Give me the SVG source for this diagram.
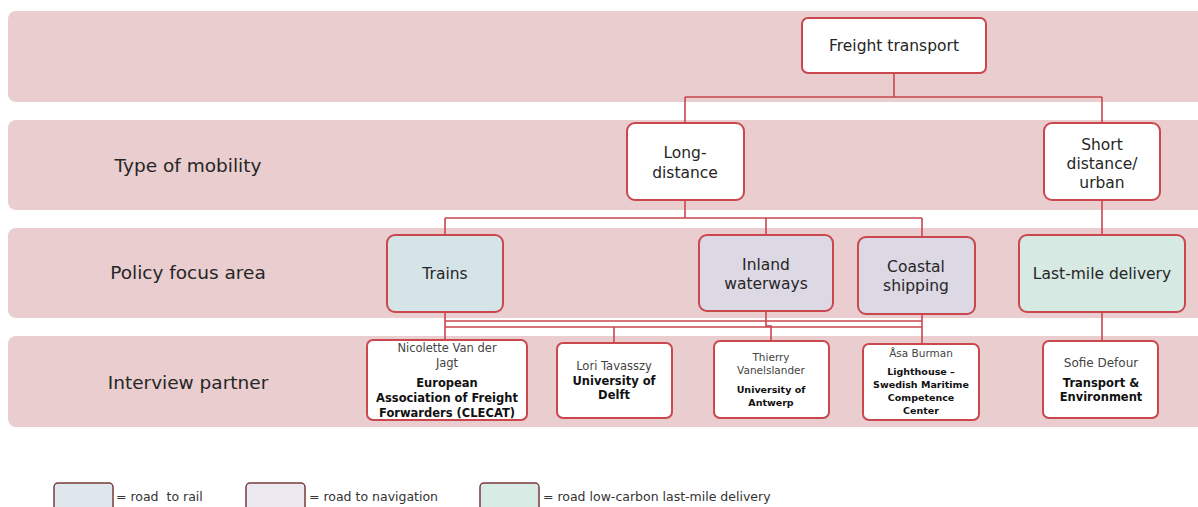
<svg xmlns="http://www.w3.org/2000/svg" width="1198" height="507" viewBox="0 0 1198 507">
<style>
.band{fill:#e9cdcf;}
.node rect{stroke:#c9474d;stroke-width:2;}
.w{fill:#ffffff;}
.t{font-family:"DejaVu Sans","Liberation Sans",sans-serif;fill:#262626;text-anchor:middle;}
.lab{font-family:"DejaVu Sans","Liberation Sans",sans-serif;fill:#262626;font-size:18.5px;text-anchor:middle;}
.n{font-size:15.5px;}
.p{font-size:11.5px;fill:#444;}
.b{font-size:11.5px;font-weight:bold;fill:#111;}
.conn path{fill:none;stroke:#c9474d;stroke-width:1.6;}
.leg rect{stroke:#7a3b3b;stroke-width:1.5;}
.lt{font-family:"DejaVu Sans","Liberation Sans",sans-serif;font-size:12.5px;fill:#333;white-space:pre;}
</style>
<rect width="1198" height="507" fill="#ffffff"/>
<g id="bands">
<rect class="band" x="8" y="11" width="1200" height="91" rx="8"/>
<rect class="band" x="8" y="120" width="1200" height="90" rx="8"/>
<rect class="band" x="8" y="228" width="1200" height="90" rx="8"/>
<rect class="band" x="8" y="336" width="1200" height="91" rx="8"/>
</g>
<g id="row-labels">
<text class="lab" x="188" y="172">Type of mobility</text>
<text class="lab" x="188" y="279">Policy focus area</text>
<text class="lab" x="188" y="389">Interview partner</text>
</g>
<g class="conn" id="connectors">
<path d="M894,73 V97 M685,97 H1102 M685,97 V123 M1102,97 V123"/>
<path d="M685,200 V218 M445,218 H922 M445,218 V235 M766,218 V235 M922,218 V237"/>
<path d="M1102,200 V235"/>
<path d="M445,312 V340 M445,321 H922 M445,327 H922 M614,327 V343 M766,311 V326 H771 V341 M922,314 V344"/>
<path d="M1102,312 V341"/>
</g>
<g class="node" id="freight-transport">
<rect class="w" x="802" y="18" width="184" height="55" rx="6"/>
<text class="t n" x="894" y="51">Freight transport</text>
</g>
<g class="node" id="long-distance">
<rect class="w" x="627" y="123" width="117" height="77" rx="8"/>
<text class="t n" x="685" y="158">Long-</text>
<text class="t n" x="685" y="178">distance</text>
</g>
<g class="node" id="short-distance">
<rect class="w" x="1044" y="123" width="116" height="77" rx="8"/>
<text class="t n" x="1102" y="150">Short</text>
<text class="t n" x="1102" y="169">distance/</text>
<text class="t n" x="1102" y="188">urban</text>
</g>
<g class="node" id="trains">
<rect x="387" y="235" width="116" height="77" rx="8" fill="#d5e4e6"/>
<text class="t n" x="445" y="279">Trains</text>
</g>
<g class="node" id="inland-waterways">
<rect x="699" y="235" width="134" height="76" rx="8" fill="#dcd8e4"/>
<text class="t n" x="766" y="270">Inland</text>
<text class="t n" x="766" y="289">waterways</text>
</g>
<g class="node" id="coastal-shipping">
<rect x="858" y="237" width="117" height="77" rx="8" fill="#dcd8e4"/>
<text class="t n" x="916" y="272">Coastal</text>
<text class="t n" x="916" y="291">shipping</text>
</g>
<g class="node" id="last-mile-delivery">
<rect x="1019" y="235" width="166" height="77" rx="8" fill="#d6e9e3"/>
<text class="t n" x="1102" y="279">Last-mile delivery</text>
</g>
<g class="node" id="nicolette">
<rect class="w" x="367" y="340" width="160" height="80" rx="6"/>
<text class="t p" x="447" y="352">Nicolette Van der</text>
<text class="t p" x="447" y="367">Jagt</text>
<text class="t b" x="447" y="387">European</text>
<text class="t b" x="447" y="402">Association of Freight</text>
<text class="t b" x="447" y="417">Forwarders (CLECAT)</text>
</g>
<g class="node" id="lori">
<rect class="w" x="557" y="343" width="115" height="75" rx="6"/>
<text class="t p" x="614" y="370">Lori Tavasszy</text>
<text class="t b" x="614" y="385">University of</text>
<text class="t b" x="614" y="399">Delft</text>
</g>
<g class="node" id="thierry">
<rect class="w" x="714" y="341" width="115" height="77" rx="6"/>
<text class="t p" x="771" y="361" style="font-size:10.5px">Thierry</text>
<text class="t p" x="771" y="374" style="font-size:10.5px">Vanelslander</text>
<text class="t b" x="771" y="393" style="font-size:9.5px">University of</text>
<text class="t b" x="771" y="406" style="font-size:9.5px">Antwerp</text>
</g>
<g class="node" id="asa">
<rect class="w" x="863" y="344" width="116" height="76" rx="6"/>
<text class="t p" x="921" y="357" style="font-size:10.5px">Åsa Burman</text>
<text class="t b" x="921" y="375" style="font-size:9.5px">Lighthouse –</text>
<text class="t b" x="921" y="388" style="font-size:9.5px">Swedish Maritime</text>
<text class="t b" x="921" y="401" style="font-size:9.5px">Competence</text>
<text class="t b" x="921" y="414" style="font-size:9.5px">Center</text>
</g>
<g class="node" id="sofie">
<rect class="w" x="1043" y="341" width="115" height="77" rx="6"/>
<text class="t p" x="1101" y="367" style="font-size:12px">Sofie Defour</text>
<text class="t b" x="1101" y="387">Transport &amp;</text>
<text class="t b" x="1101" y="401">Environment</text>
</g>
<g class="leg" id="legend">
<rect x="54" y="483" width="59" height="30" rx="4" fill="#dfe6ec"/>
<text class="lt" x="116" y="501" xml:space="preserve">= road  to rail</text>
<rect x="246" y="483" width="59" height="30" rx="4" fill="#ebe8f0"/>
<text class="lt" x="309" y="501">= road to navigation</text>
<rect x="480" y="483" width="59" height="30" rx="4" fill="#d8ebe4"/>
<text class="lt" x="543" y="501">= road low-carbon last-mile delivery</text>
</g>
</svg>
